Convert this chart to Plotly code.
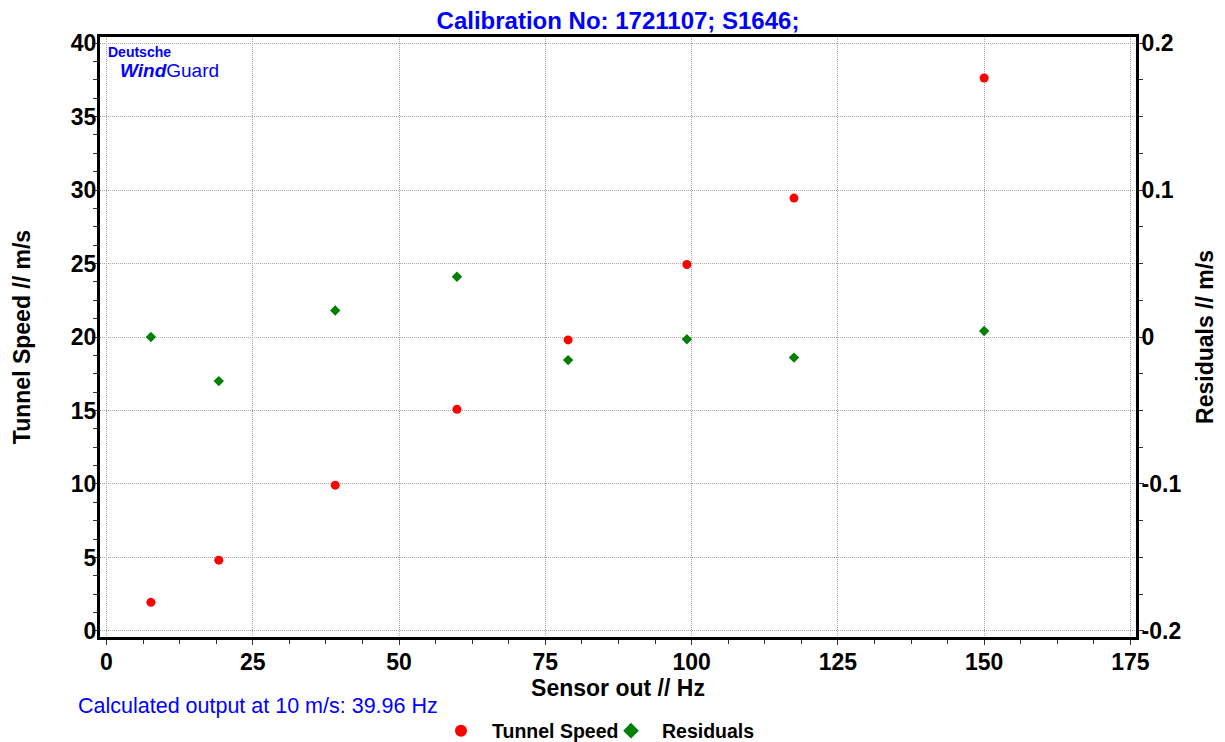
import plotly.graph_objects as go

# ---- data ----
sensor_hz = [7.6, 19.2, 39.1, 59.9, 78.9, 99.2, 117.5, 150.0]
tunnel_speed = [1.95, 4.82, 9.92, 15.08, 19.8, 24.93, 29.45, 37.62]
residuals = [0.0, -0.030, 0.018, 0.041, -0.0157, -0.0015, -0.014, 0.0041]

x_ticks = [0, 25, 50, 75, 100, 125, 150, 175]
y_ticks = [0, 5, 10, 15, 20, 25, 30, 35, 40]
y2_ticks = [-0.2, -0.1, 0, 0.1, 0.2]
y2_labels = ["-0.2", "-0.1", "0", "0.1", "0.2"]

title_text = "Calibration No: 1721107; S1646;"
note_text = "Calculated output at 10 m/s: 39.96 Hz"

FONT = "Liberation Sans, Arial, sans-serif"
BLUE = "#0000ff"

# the page body adds an 8px offset; size the figure to fill the window
W, H = 1217, 734
OFF = 8

fig = go.Figure()
fig.add_trace(go.Scatter(
    x=sensor_hz, y=tunnel_speed, mode="markers", name="Tunnel Speed",
    marker=dict(symbol="circle", size=9, color="#ff0000"),
    yaxis="y"))
fig.add_trace(go.Scatter(
    x=sensor_hz, y=residuals, mode="markers", name="Residuals",
    marker=dict(symbol="diamond", size=8, color="#008000"),
    yaxis="y2"))

tickfont = dict(family=FONT, size=23, color="black", weight="bold")
titlefont = dict(family=FONT, size=23, color="black", weight="bold")
GRID = dict(showgrid=True, gridcolor="#a8a8a8", griddash="1px,1px", gridwidth=1)

fig.update_layout(
    width=W, height=H,
    paper_bgcolor="white", plot_bgcolor="white",
    margin=dict(l=100 - OFF, r=89, t=37 - OFF, b=105, autoexpand=False),
    font=dict(family=FONT, color="black"),
    title=dict(text=title_text, x=0.5, xref="paper", xanchor="center",
               y=1 - (20.5 - OFF) / H, yref="container", yanchor="middle",
               font=dict(family=FONT, size=24, color=BLUE, weight="bold")),
    showlegend=True,
    legend=dict(orientation="h", x=(430 - 100) / 1036, xanchor="left", xref="paper",
                y=(637 - 731) / 600, yanchor="middle", yref="paper",
                itemwidth=52, entrywidth=103, entrywidthmode="pixels",
                font=dict(family=FONT, size=19.5, color="black", weight="bold"),
                itemsizing="constant", bgcolor="rgba(0,0,0,0)"),
    xaxis=dict(
        range=[-1.1, 175.95], tickvals=x_ticks, ticktext=[str(v) for v in x_ticks],
        automargin=False, **GRID,
        zeroline=False, showline=True, linecolor="black", linewidth=3, mirror=True,
        ticks="outside", ticklen=5, tickwidth=1, tickcolor="#333333",
        minor=dict(dtick=6.25, tick0=0, ticks="outside", ticklen=4, tickwidth=1,
                   tickcolor="#333333", showgrid=False),
        tickfont=tickfont, ticklabelstandoff=-3,
        title=dict(text="Sensor out // Hz", font=titlefont, standoff=1),
    ),
    yaxis=dict(
        range=[-0.41, 40.41], tickvals=y_ticks, ticktext=[str(v) for v in y_ticks],
        automargin=False, **GRID,
        zeroline=False, showline=True, linecolor="black", linewidth=3,
        ticks="outside", ticklen=5, tickwidth=1, tickcolor="#333333",
        minor=dict(dtick=1.25, tick0=0, ticks="outside", ticklen=4, tickwidth=1,
                   tickcolor="#333333", showgrid=False),
        tickfont=tickfont, ticklabelstandoff=-9,
        title=dict(text="Tunnel Speed // m/s", font=titlefont, standoff=34),
    ),
    yaxis2=dict(
        overlaying="y", side="right",
        range=[-0.2041, 0.2041], tickvals=y2_ticks, ticktext=y2_labels,
        automargin=False,
        showgrid=False, zeroline=False, showline=True, linecolor="black", linewidth=3,
        ticks="outside", ticklen=5, tickwidth=1, tickcolor="#333333",
        minor=dict(dtick=0.025, tick0=0, ticks="outside", ticklen=4, tickwidth=1,
                   tickcolor="#333333", showgrid=False),
        tickfont=tickfont, ticklabelstandoff=-7,
        title=dict(text="Residuals // m/s", font=titlefont, standoff=17),
    ),
)

# logo
fig.add_annotation(text="Deutsche", xref="paper", yref="paper",
                   x=(106 - 100) / 1036, y=(637 - 52) / 600,
                   xanchor="left", yanchor="middle", showarrow=False,
                   font=dict(family=FONT, size=14, color=BLUE, weight="bold"))
fig.add_annotation(text="<b><i>Wind</i></b>Guard", xref="paper", yref="paper",
                   x=(118 - 100) / 1036, y=(637 - 70) / 600,
                   xanchor="left", yanchor="middle", showarrow=False,
                   font=dict(family=FONT, size=19, color=BLUE))

# note
fig.add_annotation(text=note_text, xref="paper", yref="paper",
                   x=(76 - 100) / 1036, y=(637 - 706) / 600,
                   xanchor="left", yanchor="middle", showarrow=False,
                   font=dict(family=FONT, size=21.5, color=BLUE))

fig.write_html("out.html")
